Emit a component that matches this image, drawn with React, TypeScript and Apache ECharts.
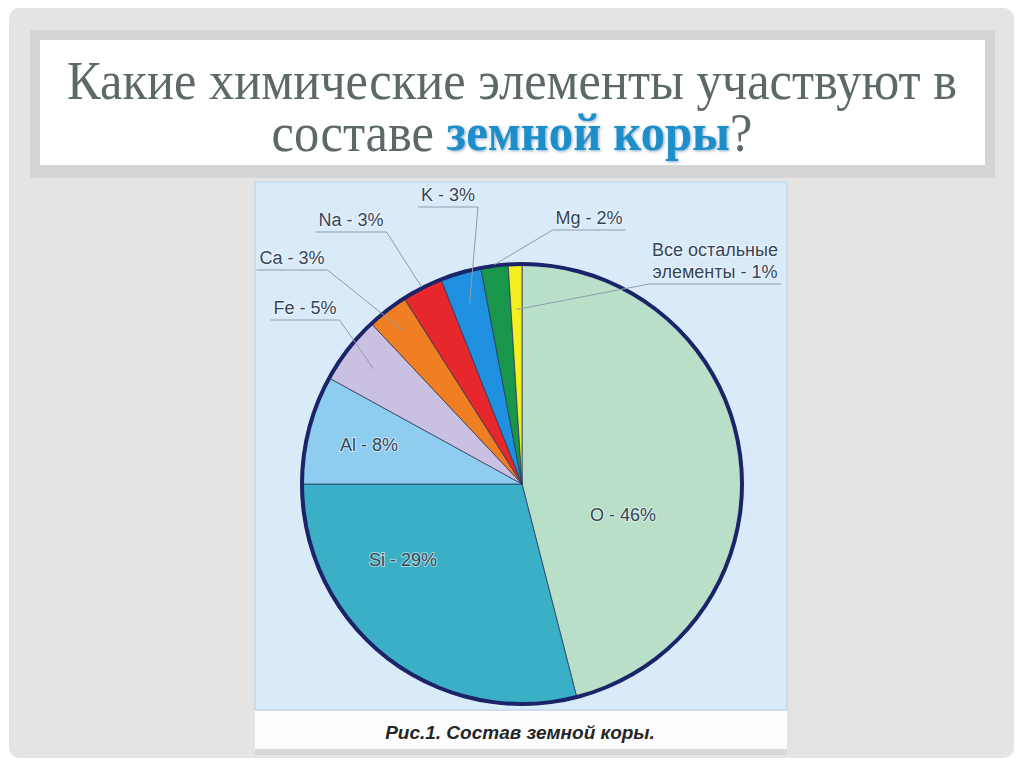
import React, { useEffect, useRef } from "react";
import * as echarts from "echarts";

// ---- data ----
const ELEMENTS = ["O", "Si", "Al", "Fe", "Ca", "Na", "K", "Mg", "Все остальные элементы"];
const PERCENTS = [46, 29, 8, 5, 3, 3, 3, 2, 1];
const LABEL_TEXTS = [
  "O - 46%",
  "Si - 29%",
  "Al - 8%",
  "Fe - 5%",
  "Ca - 3%",
  "Na - 3%",
  "K - 3%",
  "Mg - 2%",
  "Все остальные\nэлементы - 1%",
];
const TITLE_LINE1 = "Какие химические элементы участвуют в";
const TITLE_LINE2_A = "составе ";
const TITLE_LINE2_B = "земной коры";
const TITLE_LINE2_C = "?";
const CAPTION = "Рис.1. Состав земной коры.";

// ---- styling / layout ----
const COLORS = ["#b9dfc9", "#3aafc6", "#8ecdf0", "#c9c0e2", "#f07f24", "#e6282c", "#1f8fe0", "#18964b", "#f4ef1e"];
const CX = 522;
const CY = 484;
const R = 221;
// label centres (layout only)
const LABEL_POS: number[][] = [
  [623, 515],
  [403, 560],
  [369, 445],
  [305, 308],
  [292, 258],
  [351, 220],
  [448, 195],
  [589, 218],
  [715, 261],
];
// leader line: depth (fraction of radius) where it ends inside the slice; side of label the line attaches
const LINE_DEPTH = [0, 0, 0, 0.85, 0.88, 1.0, 0.85, 1.0, 0.79];
const LINE_SIDE = ["", "", "", "right", "right", "right", "right", "left", "left"];

function midAngle(i: number) {
  const total = PERCENTS.reduce((a, b) => a + b, 0);
  let cum = 0;
  for (let k = 0; k < i; k++) cum += PERCENTS[k];
  return ((cum + PERCENTS[i] / 2) / total) * Math.PI * 2;
}

const SERIF = "Liberation Serif, Times New Roman, serif";

export default function App() {
  const ref = useRef<HTMLDivElement>(null);
  useEffect(() => {
    document.body.style.margin = "0";
    const chart = echarts.init(ref.current!, null, { renderer: "svg" });
    const option: any = {
      animation: false,
      backgroundColor: "#ffffff",
      graphic: [
        { type: "rect", shape: { x: 9, y: 8, width: 1005, height: 750, r: 10 }, style: { fill: "#e4e4e4" } },
        { type: "rect", shape: { x: 30, y: 30, width: 965, height: 148 }, style: { fill: "#d5d5d5" } },
        { type: "rect", shape: { x: 40, y: 40, width: 945, height: 125 }, style: { fill: "#ffffff" } },
        { type: "rect", shape: { x: 255, y: 182, width: 532, height: 528 }, style: { fill: "#d9eaf8", stroke: "#b7d3e8", lineWidth: 1 } },
        { type: "rect", shape: { x: 255, y: 748, width: 532, height: 7 }, style: { fill: "#d9d9d9" } },
        { type: "rect", shape: { x: 255, y: 711, width: 532, height: 38 }, style: { fill: "#fdfdfd" } },
        {
          type: "text",
          x: 512,
          y: 80,
          scaleX: 0.935,
          style: {
            text: TITLE_LINE1,
            fontFamily: SERIF,
            fontSize: 54,
            lineHeight: 48,
            fill: "#5d6868",
            align: "center",
            verticalAlign: "middle",
          },
        },
        {
          type: "text",
          x: 512,
          y: 132,
          scaleX: 0.935,
          style: {
            text: `{a|${TITLE_LINE2_A}}{b|${TITLE_LINE2_B}}{a|${TITLE_LINE2_C}}`,
            align: "center",
            verticalAlign: "middle",
            rich: {
              a: {
                fontFamily: SERIF,
                fontSize: 54,
                lineHeight: 48,
                fill: "#5d6868",
              },
              b: {
                fontFamily: SERIF,
                fontSize: 52,
                lineHeight: 48,
                fontWeight: "bold",
                fill: "#1f8fca",
                textShadowColor: "rgba(0,60,120,0.45)",
                textShadowBlur: 3,
                textShadowOffsetX: 1,
                textShadowOffsetY: 1,
              },
            },
          },
        },
        {
          type: "text",
          x: 520,
          y: 732,
          style: {
            text: CAPTION,
            fontFamily: "Liberation Sans, Arial, sans-serif",
            fontSize: 19,
            fontWeight: "bold",
            fontStyle: "italic",
            fill: "#262626",
            align: "center",
            verticalAlign: "middle",
          },
        },
      ],
      series: [
        {
          type: "pie",
          z: 2,
          center: [CX, CY],
          radius: R,
          startAngle: 90,
          clockwise: true,
          silent: true,
          itemStyle: { borderColor: "rgba(40,55,90,0.75)", borderWidth: 1 },
          label: { show: false },
          labelLine: { show: false },
          data: ELEMENTS.map((name, i) => ({
            name,
            value: PERCENTS[i],
            itemStyle: { color: COLORS[i] },
          })),
        },
        {
          type: "pie",
          z: 3,
          center: [CX, CY],
          radius: [R - 3, R + 1],
          silent: true,
          label: { show: false },
          labelLine: { show: false },
          itemStyle: { color: "#1b2468" },
          data: [{ name: "border", value: 1 }],
        },
        {
          // transparent copy carrying the labels and leader lines above the slices
          type: "pie",
          z: 4,
          center: [CX, CY],
          radius: R,
          startAngle: 90,
          clockwise: true,
          silent: true,
          itemStyle: { color: "rgba(0,0,0,0)", borderWidth: 0 },
          label: {
            show: true,
            position: "outside",
            fontFamily: "Liberation Sans, Arial, sans-serif",
            fontSize: 18,
            color: "#34465a",
            lineHeight: 22,
            align: "center",
            textBorderColor: "rgba(255,255,255,0.55)",
            textBorderWidth: 2,
            formatter: (p: any) => LABEL_TEXTS[p.dataIndex],
          },
          labelLine: { show: true, lineStyle: { color: "#8f9daa", width: 1 } },
          labelLayout: (p: any) => {
            const i = p.dataIndex;
            const pos = LABEL_POS[i];
            const base: any = { x: pos[0], y: pos[1], align: "center", verticalAlign: "middle" };
            if (!LINE_DEPTH[i]) return base;
            const w = p.labelRect.width;
            const h = p.labelRect.height;
            const a = midAngle(i);
            const rho = R * LINE_DEPTH[i];
            const inner = [CX + rho * Math.sin(a), CY - rho * Math.cos(a)];
            const uy = pos[1] + h / 2 + 1;
            const l = pos[0] - w / 2 - 2;
            const r = pos[0] + w / 2 + 2;
            base.labelLinePoints =
              LINE_SIDE[i] === "right" ? [inner, [r, uy], [l, uy]] : [inner, [l, uy], [r, uy]];
            return base;
          },
          data: ELEMENTS.map((name, i) => ({
            name,
            value: PERCENTS[i],
            labelLine: { show: LINE_DEPTH[i] > 0 },
          })),
        },
      ],
    };
    chart.setOption(option);
    return () => chart.dispose();
  }, []);
  return <div ref={ref} style={{ width: 1024, height: 767, position: "absolute", left: 0, top: 0 }} />;
}
